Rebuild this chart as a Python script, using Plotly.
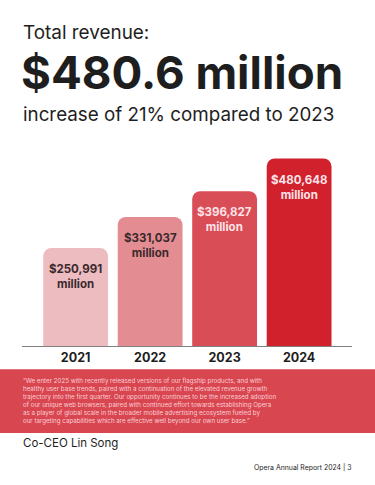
import plotly.graph_objects as go

# ---- data ----
years = ["2021", "2022", "2023", "2024"]
revenue = [250991, 331037, 396827, 480648]  # USD thousands
value_labels = ["$250,991", "$331,037", "$396,827", "$480,648"]
bar_colors = ["#ecbcc0", "#e38d93", "#d94d56", "#d0212d"]
label_colors = ["#3b2a2d", "#3b2a2d", "#fde2e8", "#fde2e8"]

title_small = "Total revenue:"
title_big = "$480.6 million"
subtitle = "increase of 21% compared to 2023"
quote_lines = [
    "\u201cWe enter 2025 with recently released versions of our flagship products, and with",
    "healthy user base trends, paired with a continuation of the elevated revenue growth",
    "trajectory into the first quarter. Our opportunity continues to be the increased adoption",
    "of our unique web browsers, paired with continued effort towards establishing Opera",
    "as a player of global scale in the broader mobile advertising ecosystem fueled by",
    "our targeting capabilities which are effective well beyond our own user base.\u201d",
]
attribution = "Co-CEO Lin Song"
footer = "Opera Annual Report 2024 | 3"

# ---- layout geometry (pixels) ----
W, H = 375, 485
PL, PR = 22, 352          # plot area left/right
PT, PB = 150, 345.7       # plot area top/bottom (baseline)
FONT = "Inter, Roboto, sans-serif"

def py(y):
    """pixel y -> paper y"""
    return (PB - y) / (PB - PT)

def px(x):
    return (x - PL) / (PR - PL)

fig = go.Figure()
fig.add_trace(go.Bar(
    x=list(range(len(years))), y=revenue,
    marker=dict(color=bar_colors, line=dict(width=0)),
    width=0.87, hoverinfo="skip",
))

annotations = []
for i, (v, lab, c) in enumerate(zip(revenue, value_labels, label_colors)):
    annotations.append(dict(
        x=i, y=v, xref="x", yref="y", text=f"<b>{lab}<br>million</b>",
        showarrow=False, yanchor="top", xanchor="center", yshift=-12,
        font=dict(family=FONT, size=11.5, color=c),
    ))

# headline texts
annotations += [
    dict(x=px(21), y=py(33), xref="paper", yref="paper", text=title_small,
         showarrow=False, xanchor="left", yanchor="middle",
         font=dict(family=FONT, size=18.9, color="#1e1e1e")),
    dict(x=px(19), y=py(73), xref="paper", yref="paper", text=f"<b>{title_big}</b>",
         showarrow=False, xanchor="left", yanchor="middle",
         font=dict(family=FONT, size=45.7, color="#1e1e1e")),
    dict(x=px(21), y=py(115), xref="paper", yref="paper", text=subtitle,
         showarrow=False, xanchor="left", yanchor="middle",
         font=dict(family=FONT, size=18.8, color="#1e1e1e")),
    dict(x=px(21), y=py(400.5), xref="paper", yref="paper", text="<br>".join(quote_lines),
         showarrow=False, xanchor="left", yanchor="middle", align="left",
         font=dict(family=FONT, size=6.2, color="#fccfd8")),
    dict(x=px(21), y=py(443), xref="paper", yref="paper", text=attribution,
         showarrow=False, xanchor="left", yanchor="middle",
         font=dict(family=FONT, size=11.5, color="#1e1e1e")),
    dict(x=px(353), y=py(467.5), xref="paper", yref="paper", text=footer,
         showarrow=False, xanchor="right", yanchor="middle",
         font=dict(family=FONT, size=6.9, color="#1e1e1e")),
]

shapes = [
    # quote band
    dict(type="rect", xref="paper", yref="paper", x0=px(0), x1=px(W),
         y0=py(432.5), y1=py(369), fillcolor="#d8464f", line=dict(width=0), layer="below"),
]

fig.update_layout(
    width=W, height=H,
    margin=dict(l=PL, r=W - PR, t=PT, b=H - PB, pad=0),
    paper_bgcolor="white", plot_bgcolor="white",
    showlegend=False, barcornerradius=8,
    xaxis=dict(
        range=[-0.72, 3.71], tickmode="array", tickvals=list(range(len(years))),
        ticktext=[f"<b>{y}</b>" for y in years], showgrid=False, zeroline=False,
        showline=True, linecolor="#808080", linewidth=1, ticks="",
        tickfont=dict(family=FONT, size=12.5, color="#1e1e1e"),
        fixedrange=True,
    ),
    yaxis=dict(range=[0, 502500], visible=False, fixedrange=True),
    annotations=annotations, shapes=shapes,
)

fig.write_html(
    "out.html",
    config={"displayModeBar": False},
    post_script="document.body.style.margin='0';document.body.style.overflow='hidden';",
)
